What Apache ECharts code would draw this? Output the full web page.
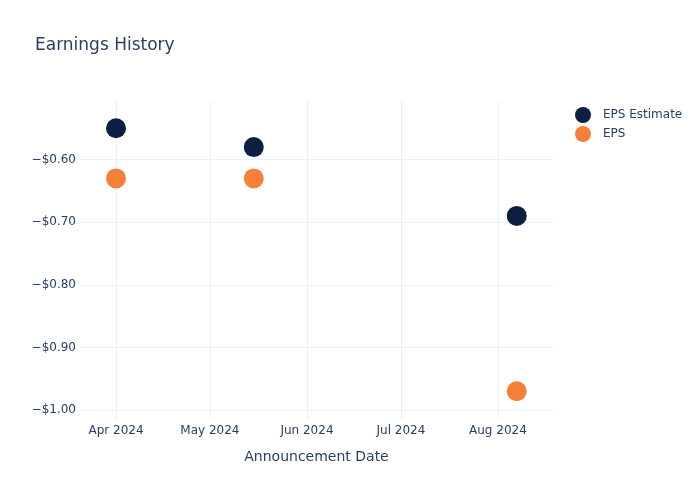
<!DOCTYPE html>
<html>
<head>
<meta charset="utf-8">
<script src="https://cdn.jsdelivr.net/npm/echarts@6/dist/echarts.min.js"></script>
<style>html,body{margin:0;padding:0;background:#fff}#c{width:700px;height:500px}</style>
</head>
<body>
<div id="c"></div>
<script>
const dates = ['2024-04-01', '2024-05-15', '2024-08-07'];
const epsEstimate = [-0.55, -0.58, -0.69];
const eps = [-0.63, -0.63, -0.97];
const yTicks = [-1.0, -0.9, -0.8, -0.7, -0.6];

function ts(s) { const p = s.split('-').map(Number); return new Date(p[0], p[1] - 1, p[2]).getTime(); }
const xMin = new Date(2024, 2, 20, 12).getTime();
const xMax = new Date(2024, 7, 18, 14).getTime();
const txt = '#2a3f5f';
const font = 'DejaVu Sans';
const gridColor = '#ebf0f8';

const chart = echarts.init(document.getElementById('c'), null, { renderer: 'canvas' });
chart.setOption({
  backgroundColor: '#fff',
  textStyle: { fontFamily: font },
  title: { text: 'Earnings History', left: 30, top: 32, textStyle: { fontFamily: font, fontSize: 17, fontWeight: 'normal', color: txt } },
  legend: {
    orient: 'vertical', left: 570, top: 102, itemWidth: 30, itemHeight: 16, itemGap: 3, icon: 'circle',
    textStyle: { fontFamily: font, fontSize: 12, color: txt },
    data: ['EPS Estimate', 'EPS']
  },
  grid: [
    { left: 80, right: 147, top: 100, bottom: 80 },
    { left: 80, right: 147, top: 97, bottom: 90 }
  ],
  xAxis: [
    {
      type: 'time', gridIndex: 0, min: xMin, max: xMax,
      name: 'Announcement Date', nameLocation: 'middle', nameGap: 30,
      nameTextStyle: { fontFamily: font, fontSize: 14, color: txt },
      axisLine: { show: false }, axisTick: { show: false },
      axisLabel: { formatter: '{MMM} {yyyy}', color: txt, fontSize: 12, fontFamily: font, margin: 5, hideOverlap: false },
      splitLine: { show: true, showMinLine: false, showMaxLine: false, lineStyle: { color: gridColor, width: 1 } }
    },
    { type: 'value', gridIndex: 1, show: false, min: 0, max: 1 }
  ],
  yAxis: [
    { type: 'value', gridIndex: 0, min: -1.01597, max: -0.5048, show: false, splitLine: { show: false } },
    {
      type: 'value', gridIndex: 1, min: yTicks[0], max: -0.5, interval: 0.1,
      axisLine: { show: false }, axisTick: { show: false },
      axisLabel: { color: txt, fontSize: 12, fontFamily: font, margin: 4, showMaxLabel: false,
        formatter: v => '\u2212$' + Math.abs(v).toFixed(2) },
      splitLine: { show: true, showMaxLine: false, lineStyle: { color: gridColor, width: 1 } }
    }
  ],
  series: [
    {
      name: 'EPS Estimate', type: 'scatter', xAxisIndex: 0, yAxisIndex: 0, symbolSize: 20,
      itemStyle: { color: '#0c1e42', opacity: 1 },
      data: dates.map((d, i) => [ts(d), epsEstimate[i]])
    },
    {
      name: 'EPS', type: 'scatter', xAxisIndex: 0, yAxisIndex: 0, symbolSize: 20,
      itemStyle: { color: '#f5803a', opacity: 1 },
      data: dates.map((d, i) => [ts(d), eps[i]])
    }
  ]
});
</script>
</body>
</html>
